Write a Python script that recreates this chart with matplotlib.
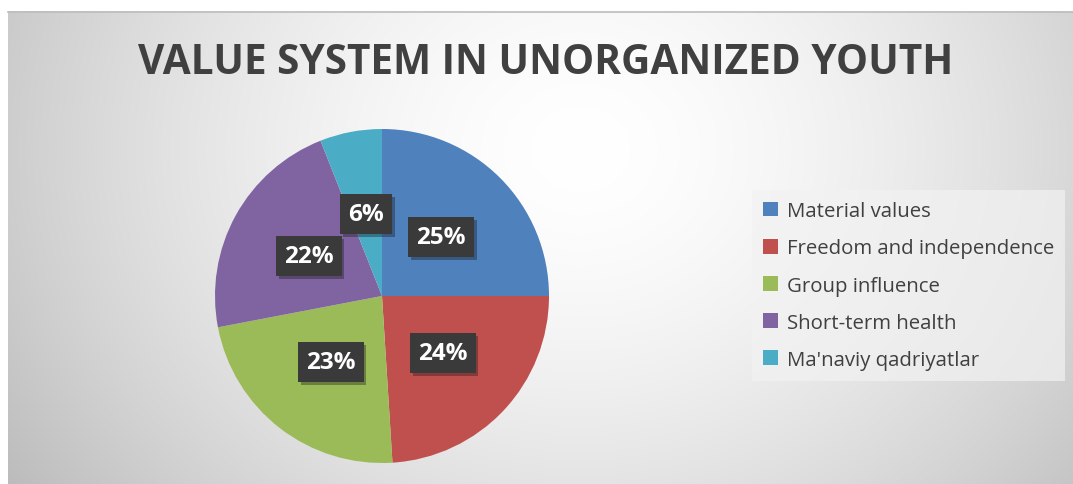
import matplotlib
matplotlib.use("Agg")
import matplotlib.pyplot as plt
import numpy as np
from matplotlib.patches import Rectangle
import matplotlib.patheffects as pe

categories = ["Material values", "Freedom and independence", "Group influence",
              "Short-term health", "Ma'naviy qadriyatlar"]
values = [25, 24, 23, 22, 6]
colors = ["#4f81bd", "#c0504d", "#9bbb59", "#8064a2", "#4bacc6"]
title = "VALUE SYSTEM IN UNORGANIZED YOUTH"

W, H = 1073, 485
fig = plt.figure(figsize=(W / 100, H / 100), dpi=100)
fig.patch.set_facecolor("white")

title_font = "Open Sans"
body_font = "Open Sans"

# background gradient panel
bg = fig.add_axes([0, 0, 1, 1], zorder=-5)
bg.set_xlim(0, W)
bg.set_ylim(H, 0)
bg.axis("off")
yy, xx = np.mgrid[12:H, 8:W]
d = np.sqrt(((xx - 580) / 1.0) ** 2 + ((yy - 150) / 0.85) ** 2)
v = 1.0 - 0.22 * np.clip(d / 620, 0, 1.2) ** 1.6
img = np.dstack([v, v, v])
bg.imshow(img, extent=(8, W, H, 12), aspect="auto", interpolation="bilinear")
bg.plot([8, W], [12.5, 12.5], color="#bdbdbd", lw=1.2)

# pie
cx, cy, r = 382, 297, 167
ax = fig.add_axes([(cx - r) / W, (H - cy - r) / H, 2 * r / W, 2 * r / H])
wedges, texts, autotexts = ax.pie(values, colors=colors, startangle=90, counterclock=False,
                                  radius=1, autopct="%d%%", pctdistance=0.5,
                                  wedgeprops=dict(linewidth=0),
                                  textprops=dict(color="white", fontsize=17.5,
                                                 fontweight="bold", family=body_font))
ax.set_xlim(-1, 1)
ax.set_ylim(-1, 1)
ax.set_aspect("equal")
for t in autotexts:
    t.set_bbox(dict(boxstyle="square,pad=0.33", facecolor="#3a3a3a", edgecolor="none"))
    t.get_bbox_patch().set_path_effects([pe.SimplePatchShadow(offset=(2, -2), alpha=0.35),
                                         pe.Normal()])

# title
tt = fig.text(546 / W, 1 - 63 / H, title, ha="center", va="center", color="#404040",
              fontsize=32, fontweight="bold", family=title_font)
fig.canvas.draw()
bb = tt.get_window_extent()
tt.set_fontsize(32 * 817 / bb.width)

# legend
handles = [Rectangle((0, 0), 1, 1, facecolor=c, edgecolor="none") for c in colors]
leg = fig.legend(handles, categories, loc="upper left",
                 bbox_to_anchor=(752 / W, 1 - 191 / H),
                 frameon=True, fancybox=False,
                 prop=dict(family=body_font, size=14.7),
                 handlelength=0.72, handleheight=0.72, handletextpad=0.42,
                 labelspacing=0.84, borderpad=0.55, borderaxespad=0)
leg.get_frame().set_facecolor("#f2f2f2")
leg.get_frame().set_alpha(0.7)
leg.get_frame().set_edgecolor("none")
for t in leg.get_texts():
    t.set_color("#404040")

fig.savefig("out.png", dpi=100, facecolor="white")
